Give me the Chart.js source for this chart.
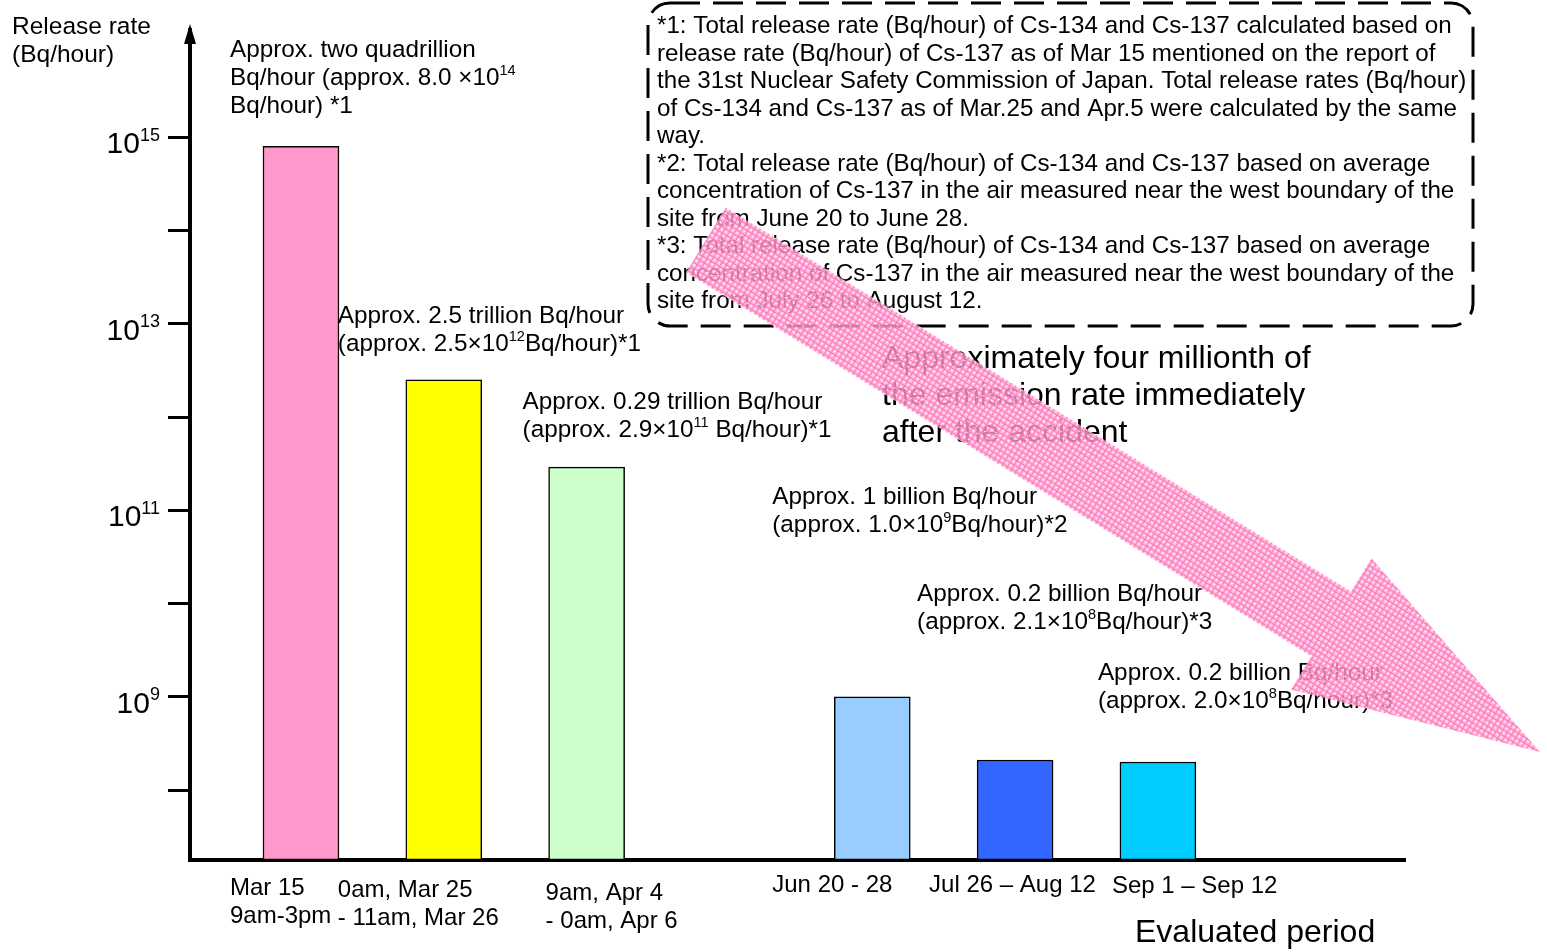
<!DOCTYPE html>
<html>
<head>
<meta charset="utf-8">
<title>Release rate by evaluated period</title>
<script src="https://cdn.jsdelivr.net/npm/chart.js@4.4.1/dist/chart.umd.min.js"></script>
<style>
  html, body { margin: 0; padding: 0; background: #fff; }
  #chart { display: block; }
</style>
</head>
<body>
<canvas id="chart" width="1547" height="952"></canvas>
<script>
// evaluated periods, the blank one leaves the gap between April and June
const periods = [
  ['Mar 15', '9am-3pm'],
  ['0am, Mar 25', '- 11am, Mar 26'],
  ['9am, Apr 4', '- 0am, Apr 6'],
  '',
  ['Jun 20 - 28'],
  ['Jul 26 \u2013 Aug 12'],
  ['Sep 1 \u2013 Sep 12']
];
// total release rate of Cs-134 and Cs-137, Bq/hour
const releaseRates = [8.0e14, 2.5e12, 2.9e11, null, 1.0e9, 2.1e8, 2.0e8];
const barColors = ['#ff99cc', '#ffff00', '#ccffcc', null, '#99ccff', '#3366ff', '#00ccff'];

// text written above each bar (^{..} = superscript)
const rateNotes = [
  ['Approx. two quadrillion', 'Bq/hour (approx. 8.0 \u00d710^{14}', 'Bq/hour) *1'],
  ['Approx. 2.5 trillion Bq/hour', '(approx. 2.5\u00d710^{12}Bq/hour)*1'],
  ['Approx. 0.29 trillion Bq/hour', '(approx. 2.9\u00d710^{11} Bq/hour)*1'],
  null,
  ['Approx. 1 billion Bq/hour', '(approx. 1.0\u00d710^{9}Bq/hour)*2'],
  ['Approx. 0.2 billion Bq/hour', '(approx. 2.1\u00d710^{8}Bq/hour)*3'],
  ['Approx. 0.2 billion Bq/hour', '(approx. 2.0\u00d710^{8}Bq/hour)*3']
];

const yTickValues = [1e8, 1e9, 1e10, 1e11, 1e12, 1e13, 1e14, 1e15];
const yTickLabels = ['', '10^{9}', '', '10^{11}', '', '10^{13}', '', '10^{15}'];

const footnotes = [
  '*1: Total release rate (Bq/hour) of Cs-134 and Cs-137 calculated based on',
  'release rate (Bq/hour) of Cs-137 as of Mar 15 mentioned on the report of',
  'the 31st Nuclear Safety Commission of Japan. Total release rates (Bq/hour)',
  'of Cs-134 and Cs-137 as of Mar.25 and Apr.5 were calculated by the same',
  'way.',
  '*2: Total release rate (Bq/hour) of Cs-134 and Cs-137 based on average',
  'concentration of Cs-137 in the air measured near the west boundary of the',
  'site from June 20 to June 28.',
  '*3: Total release rate (Bq/hour) of Cs-134 and Cs-137 based on average',
  'concentration of Cs-137 in the air measured near the west boundary of the',
  'site from July 26 to August 12.'
];
const trendNote = ['Approximately four millionth of', 'the emission rate immediately', 'after the accident'];
const yTitle = ['Release rate', '(Bq/hour)'];
const xTitle = 'Evaluated period';

const FONT = '"Liberation Sans", Arial, sans-serif';

// draw one line with ^{..} parts raised and smaller; y is the baseline
function drawRich(ctx, text, x, y, size, align) {
  const runs = text.split(/(\^\{[^}]*\})/).filter(s => s).map(s =>
    s.startsWith('^{') ? { t: s.slice(2, -1), sup: true } : { t: s, sup: false });
  let total = 0;
  runs.forEach(r => {
    ctx.font = (r.sup ? size * 0.6 : size) + 'px ' + FONT;
    r.w = ctx.measureText(r.t).width;
    total += r.w;
  });
  let cx = align === 'right' ? x - total : x;
  runs.forEach(r => {
    ctx.font = (r.sup ? size * 0.6 : size) + 'px ' + FONT;
    ctx.fillText(r.t, cx, r.sup ? y - size * 0.42 : y);
    cx += r.w;
  });
}

function hatchPattern(ctx) {
  const c = document.createElement('canvas');
  c.width = 5; c.height = 5;
  const p = c.getContext('2d');
  p.fillStyle = 'rgba(255,165,210,0.75)';
  p.fillRect(0, 0, 5, 5);
  p.fillStyle = 'rgba(255,105,182,0.82)';
  p.fillRect(0, 0, 5, 1);
  p.fillRect(0, 0, 1, 5);
  p.fillStyle = 'rgba(255,255,255,0.9)';
  p.fillRect(2, 2, 2, 1);
  return ctx.createPattern(c, 'repeat');
}

const overlay = {
  id: 'overlay',
  afterDraw(chart, args, opts) {
    const ctx = chart.ctx;
    const area = chart.chartArea;
    const ys = chart.scales.y;
    const bars = chart.getDatasetMeta(0).data;
    ctx.save();
    ctx.fillStyle = '#000';
    ctx.textAlign = 'left';
    ctx.textBaseline = 'alphabetic';

    // arrow head on top of the y axis
    ctx.beginPath();
    ctx.moveTo(area.left, area.top - 6);
    ctx.lineTo(area.left - 6, area.top + 14);
    ctx.lineTo(area.left + 6, area.top + 14);
    ctx.closePath();
    ctx.fill();

    // y tick labels 10^n
    yTickValues.forEach((v, i) => {
      if (!yTickLabels[i]) return;
      drawRich(ctx, yTickLabels[i], area.left - 30, ys.getPixelForValue(v) + 16, 30, 'right');
    });

    // period labels under the bars, left aligned blocks
    ctx.font = '24px ' + FONT;
    periods.forEach((lines, i) => {
      if (!lines) return;
      const [dx, dy] = opts.labelOffsets[i];
      lines.forEach((t, j) => ctx.fillText(t, bars[i].x + dx, area.bottom + dy + j * 28));
    });

    // axis titles
    ctx.font = '24.5px ' + FONT;
    yTitle.forEach((t, i) => ctx.fillText(t, 12, 34 + i * 28));
    ctx.font = '32px ' + FONT;
    ctx.fillText(xTitle, 1135, 942);

    // value notes above the bars
    rateNotes.forEach((lines, i) => {
      if (!lines) return;
      const bar = bars[i];
      const [dx, dy] = opts.noteOffsets[i];
      lines.forEach((t, j) => drawRich(ctx, t, bar.x + dx, bar.y - dy + j * 28 + 8, 24.3));
    });

    // footnote box
    ctx.lineWidth = 3;
    ctx.setLineDash([30, 13]);
    ctx.strokeStyle = '#000';
    ctx.beginPath();
    ctx.roundRect(648, 3, 825, 323, 22);
    ctx.stroke();
    ctx.setLineDash([]);
    ctx.font = '24.2px ' + FONT;
    footnotes.forEach((t, i) => ctx.fillText(t, 657, 33 + i * 27.5));

    ctx.font = '32px ' + FONT;
    trendNote.forEach((t, i) => ctx.fillText(t, 882, 368 + i * 37));

    // downward trend arrow, drawn last so it sits over the text
    const a = opts.arrow;
    const ang = Math.atan2(a.to[1] - a.from[1], a.to[0] - a.from[0]);
    const len = Math.hypot(a.to[0] - a.from[0], a.to[1] - a.from[1]);
    const hs = a.shaft / 2, hh = a.head / 2, neck = len - a.headLen;
    ctx.translate(a.from[0], a.from[1]);
    ctx.rotate(ang);
    ctx.beginPath();
    ctx.moveTo(0, -hs);
    ctx.lineTo(neck, -hs);
    ctx.lineTo(neck, -hh);
    ctx.lineTo(len, 0);
    ctx.lineTo(neck, hh);
    ctx.lineTo(neck, hs);
    ctx.lineTo(0, hs);
    ctx.closePath();
    ctx.fillStyle = hatchPattern(ctx);
    ctx.fill();
    ctx.restore();
  }
};

const points = periods.map((p, i) => ({ x: i, y: releaseRates[i] }));
const slotTicks = periods.map((p, i) => p ? i : null).filter(v => v !== null);

new Chart(document.getElementById('chart'), {
  type: 'bar',
  data: {
    datasets: [{
      data: points,
      backgroundColor: barColors,
      borderColor: '#000',
      borderWidth: 1.5,
      borderSkipped: false,
      barThickness: 76
    }]
  },
  options: {
    responsive: false,
    animation: false,
    devicePixelRatio: 1,
    layout: { padding: { left: 0, right: 142, top: 30, bottom: 0 } },
    plugins: {
      legend: { display: false },
      tooltip: { enabled: false },
      overlay: {
        noteOffsets: [[-71, 97], [-106, 65], [-64, 66], null, [-100, 201], [-98, 167], [-60, 90]],
        labelOffsets: [[-71, 35], [-106, 37], [-41, 40], null, [-100, 32], [-86, 32], [-46, 33]],
        arrow: { from: [706, 240], to: [1540, 752], shaft: 76, head: 154, headLen: 245 }
      }
    },
    scales: {
      x: {
        type: 'linear',
        offset: false,
        min: -0.777,
        max: 7.73,
        afterBuildTicks: s => { s.ticks = slotTicks.map(v => ({ value: v })); },
        afterFit: s => { s.height = 92; },
        grid: { display: false, drawTicks: false },
        border: { display: true, color: '#000', width: 4 },
        ticks: { display: false }
      },
      y: {
        type: 'logarithmic',
        min: Math.pow(10, 7.25),
        max: Math.pow(10, 16.15),
        afterBuildTicks: s => { s.ticks = yTickValues.map(v => ({ value: v })); },
        afterFit: s => { s.width = 190; },
        grid: { drawOnChartArea: false, drawTicks: true, tickLength: 22, color: '#000', lineWidth: 3 },
        border: { display: true, color: '#000', width: 4 },
        ticks: { display: false }
      }
    }
  },
  plugins: [overlay]
});
</script>
</body>
</html>
